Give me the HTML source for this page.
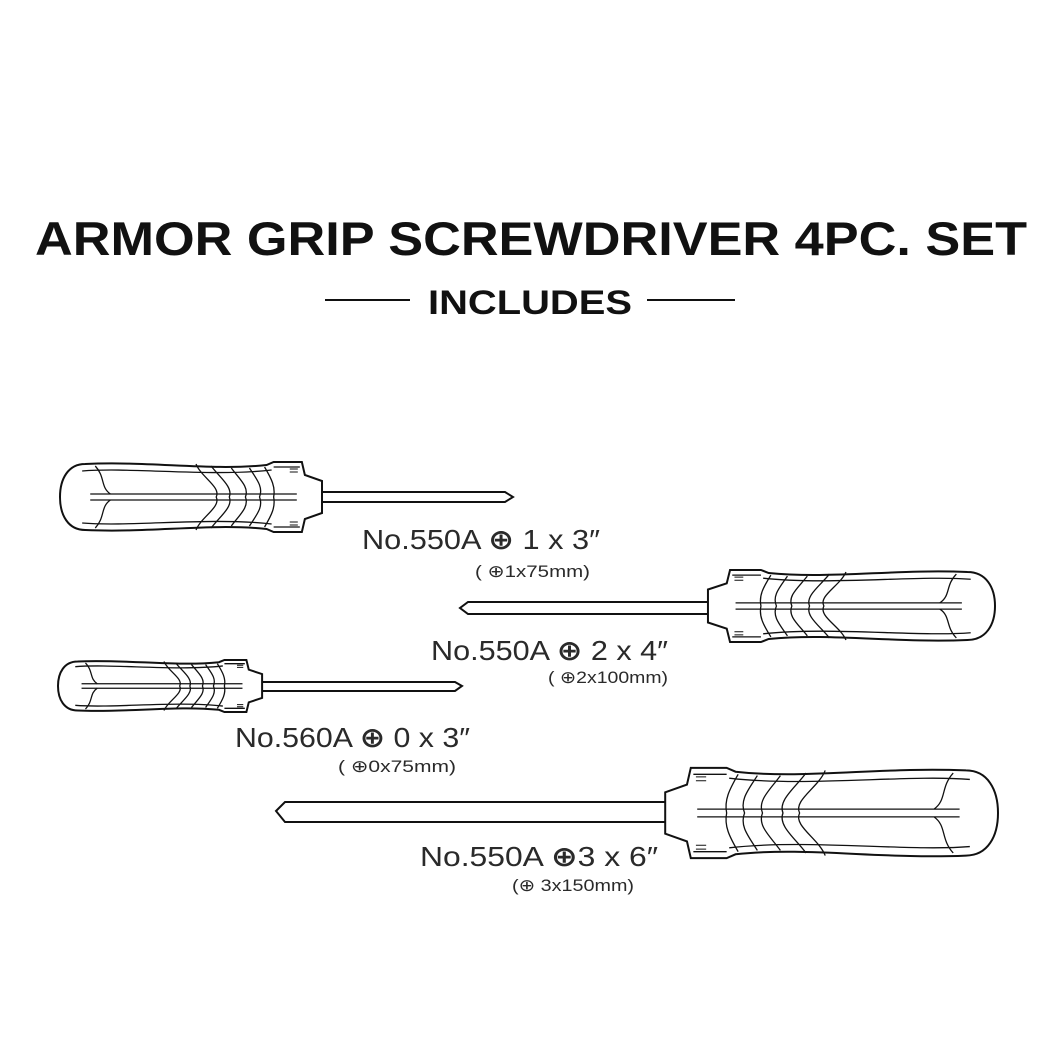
<!DOCTYPE html>
<html><head><meta charset="utf-8"><style>
html,body{margin:0;padding:0;background:#fff;}
svg{display:block;}
text{font-family:"Liberation Sans","DejaVu Sans",sans-serif;fill:#111;}
.lb text{fill:#2a2a2a;}
.h path,.h line{vector-effect:non-scaling-stroke;}
</style></head><body>
<svg width="1058" height="1058" viewBox="0 0 1058 1058" xmlns="http://www.w3.org/2000/svg">
<defs>
<g id="hd" class="h" fill="none" stroke="#111" stroke-width="2">
<path fill="#fff" d="M25,-33 C8,-33 0,-18 0,0 C0,18 8,33 25,33 C90,36 150,26 205,32 L212,35 L240,35 L243,22 L260,16 L260,-16 L243,-22 L240,-35 L212,-35 L205,-32 C150,-26 90,-36 25,-33 Z"/>
<path stroke-width="1.3" d="M22,-26 C70,-30 150,-20 210,-27 M22,26 C70,30 150,20 210,27"/>
<line stroke-width="1.3" x1="30" y1="-3" x2="235" y2="-3"/><line stroke-width="1.3" x1="30" y1="3" x2="235" y2="3"/>
<path stroke-width="1.3" d="M35,-31 C45,-20 40,-10 50,-3 M35,31 C45,20 40,10 50,3"/>
<path stroke-width="1.3" d="M135,-33 C140,-20 160,-10 155,0 C160,10 140,20 135,33"/>
<path stroke-width="1.3" d="M150,-31 C158,-20 172,-10 168,0 C172,10 158,20 150,31"/>
<path stroke-width="1.3" d="M170,-29 C178,-18 188,-10 184,0 C188,10 178,18 170,29"/>
<path stroke-width="1.3" d="M188,-29 C195,-18 202,-10 198,0 C202,10 195,18 188,29"/>
<path stroke-width="1.3" d="M203,-30 C210,-18 214,-10 212,0 C214,10 210,18 203,30"/>
<path stroke-width="1.3" d="M212,-30 L238,-30 M212,30 L238,30"/>
<path stroke-width="1" d="M228,-28 h8 M228,-25 h8 M228,25 h8 M228,28 h8"/>
</g>
</defs>
<text x="531" y="255" font-size="47" font-weight="bold" text-anchor="middle" textLength="992" lengthAdjust="spacingAndGlyphs">ARMOR GRIP SCREWDRIVER 4PC. SET</text>
<text x="530" y="314" font-size="34" font-weight="bold" text-anchor="middle" textLength="204" lengthAdjust="spacingAndGlyphs">INCLUDES</text>
<line x1="325" y1="300" x2="410" y2="300" stroke="#111" stroke-width="2"/>
<line x1="647" y1="300" x2="735" y2="300" stroke="#111" stroke-width="2"/>

<path d="M320,492 L505,492 L513,497 L505,502 L320,502 Z" fill="#fff" stroke="#111" stroke-width="2"/>
<use href="#hd" transform="translate(60,497) scale(1.0077,1)"/>
<path d="M710,602 L468,602 L460,608 L468,614 L710,614 Z" fill="#fff" stroke="#111" stroke-width="2"/>
<use href="#hd" transform="translate(995,606) scale(-1.104,1.03)"/>
<path d="M262,682 L455,682 L462,686 L455,691 L262,691 Z" fill="#fff" stroke="#111" stroke-width="2"/>
<use href="#hd" transform="translate(58,686) scale(0.785,0.743)"/>
<path d="M667,802 L285,802 L276,811 L285,822 L667,822 Z" fill="#fff" stroke="#111" stroke-width="2"/>
<use href="#hd" transform="translate(998,813) scale(-1.28,1.29)"/>

<g class="lb" font-size="28">
<text x="362" y="549" textLength="238" lengthAdjust="spacingAndGlyphs">No.550A <tspan font-family="DejaVu Sans" font-weight="bold">⊕</tspan> 1 x 3″</text>
<text x="431" y="660" textLength="237" lengthAdjust="spacingAndGlyphs">No.550A <tspan font-family="DejaVu Sans" font-weight="bold">⊕</tspan> 2 x 4″</text>
<text x="235" y="747" textLength="235" lengthAdjust="spacingAndGlyphs">No.560A <tspan font-family="DejaVu Sans" font-weight="bold">⊕</tspan> 0 x 3″</text>
<text x="420" y="866" textLength="238" lengthAdjust="spacingAndGlyphs">No.550A <tspan font-family="DejaVu Sans" font-weight="bold">⊕</tspan>3 x 6″</text>
</g>
<g class="lb" font-size="17">
<text x="475" y="577" textLength="115" lengthAdjust="spacingAndGlyphs">( <tspan font-family="DejaVu Sans">⊕</tspan>1x75mm)</text>
<text x="548" y="683" textLength="120" lengthAdjust="spacingAndGlyphs">( <tspan font-family="DejaVu Sans">⊕</tspan>2x100mm)</text>
<text x="338" y="772" textLength="118" lengthAdjust="spacingAndGlyphs">( <tspan font-family="DejaVu Sans">⊕</tspan>0x75mm)</text>
<text x="512" y="891" textLength="122" lengthAdjust="spacingAndGlyphs">(<tspan font-family="DejaVu Sans">⊕</tspan> 3x150mm)</text>
</g>
</svg>
</body></html>
